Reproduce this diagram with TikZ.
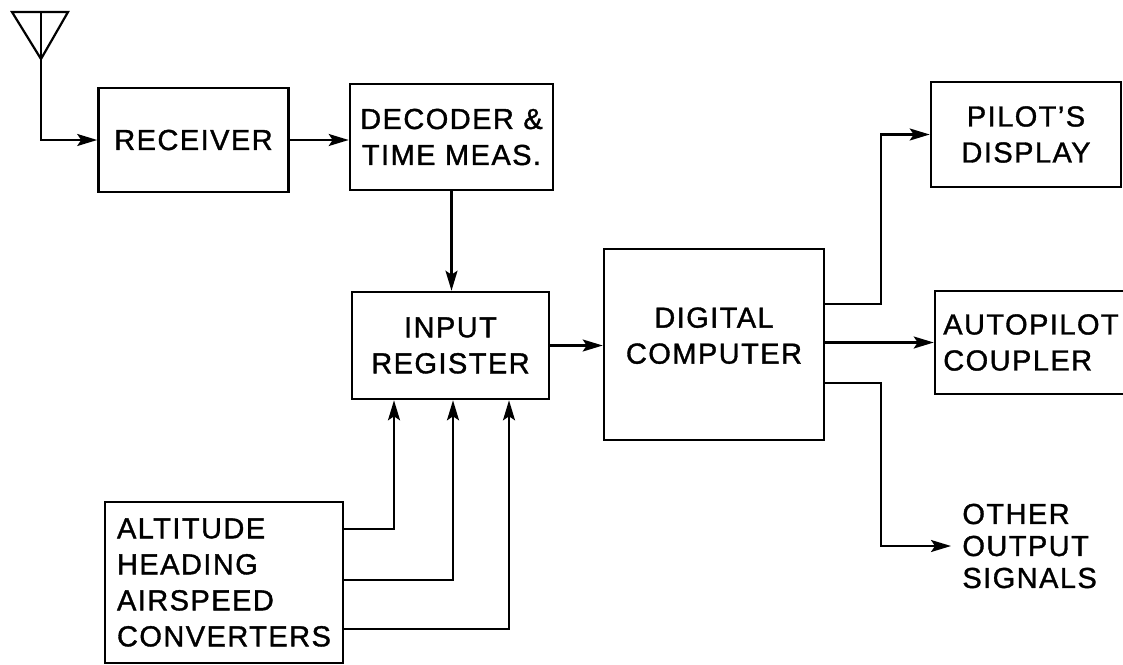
\documentclass[tikz,border=0pt]{standalone}
\usepackage{fontspec}
\setmainfont{Liberation Sans}[LetterSpace=5, FakeBold=1.2]
\usetikzlibrary{arrows.meta, positioning, calc}

\begin{document}
\begin{tikzpicture}[
    x=0.5pt, y=-0.5pt,
    blk/.style={draw, line width=1.3pt, inner sep=0pt, font=\fontsize{14.5}{18}\selectfont, align=center},
    lbl/.style={inner ysep=0pt, inner xsep=5.5pt, font=\fontsize{14.5}{16}\selectfont, align=left},
    arrow/.style={-{Stealth[length=10pt, width=6pt, inset=2pt]}, line width=1.1pt},
    wire/.style={line width=1.1pt},
]
    \useasboundingbox (0,0) rectangle (1123,664);
    \clip (0,0) rectangle (1123,664);

    % Antenna
    \coordinate (ant) at (41,12);
    \draw[wire, line join=miter] (12,12) -- (68,12) -- (41,59) -- cycle;
    \draw[wire] (ant) -- (41,59);

    % Receiver and decoder
    \node[blk, minimum width=95pt, minimum height=52pt] (rec) at (193.5,140) {RECEIVER};
    \node[blk, minimum width=101.5pt, minimum height=53pt] (dec) at (451.5,137) {DECODER \&\\TIME MEAS.};

    % Input register and computer
    \node[blk, minimum width=98.5pt, minimum height=53.5pt] (inp) at (450.5,345.5) {INPUT\\REGISTER};
    \node[blk, minimum width=110pt, minimum height=95.5pt] (dig) at (714,344.5) {DIGITAL\\COMPUTER\\[-9pt]};

    % Outputs
    \node[blk, minimum width=95pt, minimum height=52.5pt] (pil) at (1026,134.5) {PILOT’S\\DISPLAY};
    \node[blk, minimum width=96pt, minimum height=51.5pt, align=left] (aut) at (1031,342.5) {AUTOPILOT\\COUPLER};
    \node[lbl, anchor=west] (oth) at (951,546) {OTHER\\OUTPUT\\SIGNALS};

    % Converters
    \node[blk, minimum width=119pt, minimum height=80.5pt, align=left] (conv) at (224,582.5) {ALTITUDE\\HEADING\\AIRSPEED\\CONVERTERS};

    % Connections
    \draw[arrow] (ant) |- (rec);
    \draw[arrow] (rec) -- (rec -| dec.west);
    \draw[arrow] (dec.south) -- (dec.south |- inp.north);
    \draw[arrow] (inp) -- (inp -| dig.west);

    \draw[arrow] (dig.east |- 0,304) -- (881,304) |- (pil);
    \draw[arrow] (dig.east |- aut.west) -- (aut.west);
    \draw[arrow] (dig.east |- 0,383) -- (881,383) |- (oth.west);

    \draw[arrow] (conv.east |- 0,529) -| (inp.south -| 394,0);
    \draw[arrow] (conv.east |- 0,580) -| (inp.south -| 453,0);
    \draw[arrow] (conv.east |- 0,629) -| (inp.south -| 509,0);

\end{tikzpicture}
\end{document}
